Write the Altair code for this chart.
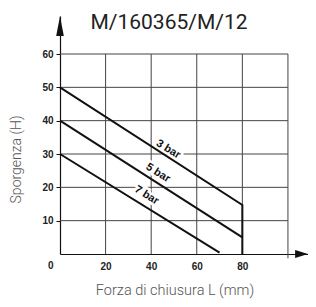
import altair as alt
import pandas as pd

# ---- data ----
series_names = ["3 bar", "3 bar", "3 bar", "5 bar", "5 bar", "7 bar", "7 bar"]
series_x = [0, 80, 80, 0, 80, 0, 70]
series_y = [50, 14.7, 0, 40, 5, 30, 0.4]
series_order = [0, 1, 2, 0, 1, 0, 1]

label_text = ["3 bar", "5 bar", "7 bar"]
label_x = [47.5, 43, 38]
label_y = [31.4, 24.3, 17.6]

hgrid_y = [10, 20, 30, 40, 50, 60]
vgrid_x = [20, 40, 60, 80, 100]
vgrid_lo = [0, 0, 0, 0, -1.3]

x_tick_values = [20, 40, 60, 80]
y_tick_values = [0, 10, 20, 30, 40, 50, 60]

X_MAX = 108.8
Y_MAX = 71.4
arrow_up = {"x": [0], "y": [68.4]}
arrow_right = {"x": [106.0], "y": [0]}

title_text = "M/160365/M/12"
x_title = "Forza di chiusura L (mm)"
y_title = "Sporgenza (H)"

# ---- frames ----
lines_df = pd.DataFrame({"s": series_names, "x": series_x, "y": series_y, "o": series_order})
labels_df = pd.DataFrame({"t": label_text, "x": label_x, "y": label_y})
hgrid_df = pd.DataFrame({"y": hgrid_y, "x": [0] * len(hgrid_y), "x2": [100] * len(hgrid_y)})
vgrid_df = pd.DataFrame({"x": vgrid_x, "y": vgrid_lo, "y2": [60] * len(vgrid_x)})

xs = alt.Scale(domain=[0, X_MAX], nice=False, zero=False)
ys = alt.Scale(domain=[0, Y_MAX], nice=False, zero=False)

x_axis = alt.Axis(
    values=x_tick_values, grid=False, ticks=False, tickSize=0,
    labelFont="Liberation Sans", labelFontWeight="bold", labelFontSize=10,
    labelColor="#222", labelPadding=7,
    domainColor="#111", domainWidth=1.2,
    title=x_title, titleFont="Roboto", titleFontWeight=300, titleFontSize=14.5,
    titleColor="#555", titleX=114.5, titleY=36, titleAlign="center",
    titleBaseline="middle", titleAnchor="start",
)
y_axis = alt.Axis(
    values=y_tick_values, grid=False, tickSize=4, tickColor="#111",
    tickOpacity={"condition": {"test": "datum.value === 0", "value": 0}, "value": 1},
    labelOffset={"condition": {"test": "datum.value === 0", "value": 11}, "value": 0},
    labelFont="Liberation Sans", labelFontWeight="bold", labelFontSize=10,
    labelColor="#222", labelPadding=3,
    domainColor="#111", domainWidth=1.2,
    title=y_title, titleFont="Roboto", titleFontWeight=300, titleFontSize=14,
    titleColor="#555", titleAngle=270, titleX=-44, titleY=143,
    titleAlign="center", titleBaseline="middle", titleAnchor="start",
)


def X(field):
    return alt.X(field, scale=xs, axis=x_axis)


def Y(field):
    return alt.Y(field, scale=ys, axis=y_axis)


hgrid = alt.Chart(hgrid_df).mark_rule(color="#444", strokeWidth=1).encode(
    y=Y("y:Q"), x=X("x:Q"), x2="x2:Q",
)
vgrid = alt.Chart(vgrid_df).mark_rule(color="#444", strokeWidth=1).encode(
    x=X("x:Q"), y=Y("y:Q"), y2="y2:Q",
)
halo = alt.Chart(labels_df).mark_text(
    font="Liberation Sans", fontWeight="bold", fontSize=11, angle=32,
    stroke="white", strokeWidth=5, fill="white",
).encode(x=X("x:Q"), y=Y("y:Q"), text="t:N")
lines = alt.Chart(lines_df).mark_line(color="#111", strokeWidth=2).encode(
    x=X("x:Q"), y=Y("y:Q"), detail="s:N", order="o:Q",
)
labels = alt.Chart(labels_df).mark_text(
    font="Liberation Sans", fontWeight="bold", fontSize=11, angle=32, color="#111",
).encode(x=X("x:Q"), y=Y("y:Q"), text="t:N")
up = alt.Chart(pd.DataFrame(arrow_up)).mark_point(
    shape="M0,-1L0.38,1L-0.38,1Z", size=400, filled=True, color="#111", opacity=1,
).encode(x=X("x:Q"), y=Y("y:Q"))
right = alt.Chart(pd.DataFrame(arrow_right)).mark_point(
    shape="M1,0L-1,-0.62L-1,0.62Z", size=169, filled=True, color="#111", opacity=1,
).encode(x=X("x:Q"), y=Y("y:Q"))

chart = alt.layer(hgrid, vgrid, halo, lines, labels, up, right).properties(
    width=248, height=238,
    autosize=alt.AutoSizeParams(type="none"),
    padding={"left": 52, "top": 8, "right": 0, "bottom": 45},
    title=alt.TitleParams(
        title_text, font="Roboto", fontSize=21, fontWeight="normal", color="#222",
        anchor="middle", frame="group", offset=0, dx=-15, dy=17,
    ),
).configure_view(stroke=None)

chart.save("out.html", embed_options={"renderer": "svg", "actions": False})
